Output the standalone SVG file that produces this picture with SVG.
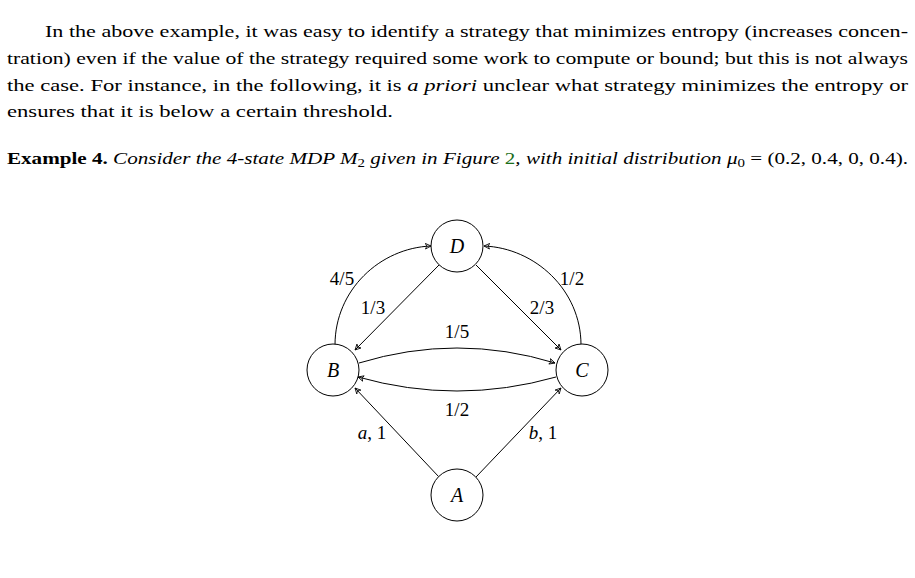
<svg xmlns="http://www.w3.org/2000/svg" width="915" height="578" viewBox="0 0 915 578">
<style>
text{font-family:"Liberation Serif",serif;font-size:17px;fill:#000}
.n circle{fill:#fff;stroke:#000;stroke-width:1}
.n text{font-style:italic;text-anchor:middle;font-size:20px}
.e path{fill:none;stroke:#000;stroke-width:1;marker-end:url(#ar)}
.l text{text-anchor:middle;font-size:19px}
</style>
<defs><marker id="ar" viewBox="0 0 10 10" refX="9" refY="5" markerWidth="7" markerHeight="7" orient="auto" markerUnits="userSpaceOnUse"><path d="M1,1 Q5,5 1,9 M1,1 L9,5 L1,9" fill="none" stroke="#000" stroke-width="1.2"/></marker></defs>
<rect width="915" height="578" fill="#fff"/>
<text x="45" y="37" textLength="863" lengthAdjust="spacingAndGlyphs">In the above example, it was easy to identify a strategy that minimizes entropy (increases concen-</text>
<text x="7" y="64" textLength="901" lengthAdjust="spacingAndGlyphs">tration) even if the value of the strategy required some work to compute or bound; but this is not always</text>
<text x="7" y="91" textLength="901" lengthAdjust="spacingAndGlyphs">the case. For instance, in the following, it is <tspan font-style="italic">a priori</tspan> unclear what strategy minimizes the entropy or</text>
<text x="7" y="117" textLength="386" lengthAdjust="spacingAndGlyphs">ensures that it is below a certain threshold.</text>
<text x="7" y="164" textLength="901" lengthAdjust="spacingAndGlyphs"><tspan font-weight="bold">Example 4.</tspan> <tspan font-style="italic">Consider the 4-state MDP M</tspan><tspan font-size="12" dy="3">2</tspan><tspan font-style="italic" dy="-3"> given in Figure </tspan><tspan fill="#1a6e1a">2</tspan><tspan font-style="italic">, with initial distribution μ</tspan><tspan font-size="12" dy="3">0</tspan><tspan dy="-3"> = (0.2, 0.4, 0, 0.4).</tspan></text>
<g id="edges" class="e">
<path d="M335,345 C335,290 380,248 431,246"/>
<path d="M581,345 C581,290 535,248 484,246"/>
<path d="M439,265 L355,350"/>
<path d="M476,265 L561,350"/>
<path d="M359,363 Q457,333 555,363"/>
<path d="M556,377 Q457,405 358,377"/>
<path d="M439,477 L355,388"/>
<path d="M476,477 L561,388"/>
</g>
<g id="labels" class="l">
<text x="342" y="285">4/5</text>
<text x="373" y="314">1/3</text>
<text x="457" y="338">1/5</text>
<text x="542" y="314">2/3</text>
<text x="572" y="285">1/2</text>
<text x="457" y="416">1/2</text>
<text x="372" y="439"><tspan font-style="italic">a</tspan>, 1</text>
<text x="543" y="439"><tspan font-style="italic">b</tspan>, 1</text>
</g>
<g id="D" class="n"><circle cx="457" cy="246" r="26"/><text x="457" y="253">D</text></g>
<g id="B" class="n"><circle cx="333" cy="370" r="26"/><text x="333" y="377">B</text></g>
<g id="C" class="n"><circle cx="582" cy="370" r="26"/><text x="582" y="377">C</text></g>
<g id="A" class="n"><circle cx="457" cy="495" r="26"/><text x="457" y="502">A</text></g>
</svg>
